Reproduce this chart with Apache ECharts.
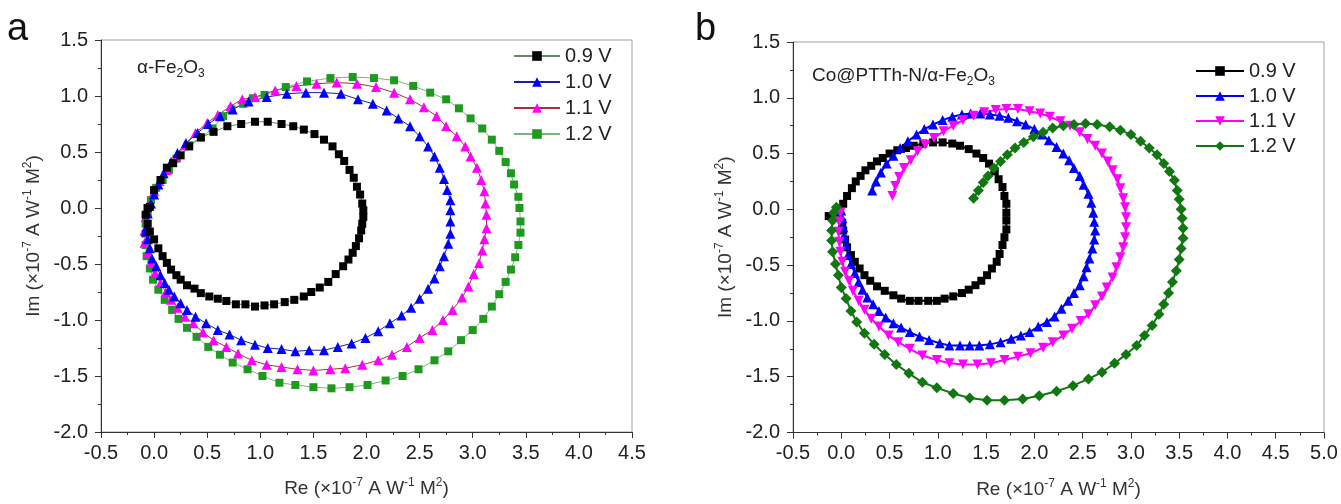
<!DOCTYPE html>
<html>
<head>
<meta charset="utf-8">
<script src="https://cdn.jsdelivr.net/npm/echarts@6/dist/echarts.min.js"></script>
<style>html,body{margin:0;padding:0;background:#fff}#c{width:1341px;height:504px}</style>
</head>
<body>
<div id="c"></div>
<script>
// ---------- Data (Re, Im) in units of 1e-7 A W^-1 M^2 ----------
var seriesNames = ['0.9 V', '1.0 V', '1.1 V', '1.2 V'];
var xTicksA = [-0.5, 0.0, 0.5, 1.0, 1.5, 2.0, 2.5, 3.0, 3.5, 4.0, 4.5];
var xTicksB = [-0.5, 0.0, 0.5, 1.0, 1.5, 2.0, 2.5, 3.0, 3.5, 4.0, 4.5, 5.0];
var yTicks = [-2.0, -1.5, -1.0, -0.5, 0.0, 0.5, 1.0, 1.5];

// Panel a: alpha-Fe2O3
var a09 = [[-0.06,0.0],[-0.04,0.01],[0.0,0.16],[0.06,0.25],[0.12,0.36],[0.18,0.40],[0.25,0.47],[0.33,0.55],[0.44,0.63],[0.56,0.68],[0.69,0.73],[0.82,0.75],[0.95,0.77],[1.07,0.77],[1.20,0.75],[1.31,0.73],[1.41,0.70],[1.51,0.66],[1.60,0.61],[1.68,0.55],[1.74,0.48],[1.79,0.42],[1.84,0.34],[1.88,0.27],[1.91,0.19],[1.94,0.12],[1.96,0.04],[1.97,-0.02],[1.97,-0.08],[1.96,-0.14],[1.95,-0.20],[1.93,-0.27],[1.90,-0.34],[1.87,-0.40],[1.83,-0.46],[1.78,-0.52],[1.71,-0.59],[1.64,-0.66],[1.56,-0.71],[1.48,-0.75],[1.41,-0.79],[1.32,-0.82],[1.23,-0.84],[1.13,-0.86],[1.04,-0.87],[0.95,-0.88],[0.86,-0.86],[0.77,-0.86],[0.68,-0.83],[0.60,-0.81],[0.52,-0.79],[0.44,-0.76],[0.38,-0.72],[0.31,-0.69],[0.25,-0.64],[0.21,-0.60],[0.16,-0.55],[0.12,-0.49],[0.08,-0.43],[0.04,-0.36],[0.0,-0.28],[-0.04,-0.21],[-0.06,-0.14],[-0.08,-0.06],[-0.06,0.0]];
var a10 = [[-0.07,-0.17],[-0.06,-0.05],[-0.03,0.04],[0.0,0.12],[0.04,0.21],[0.09,0.31],[0.16,0.41],[0.22,0.49],[0.30,0.58],[0.41,0.67],[0.51,0.75],[0.62,0.82],[0.74,0.88],[0.89,0.95],[1.06,0.99],[1.25,1.02],[1.43,1.03],[1.60,1.03],[1.76,1.02],[1.92,0.97],[2.06,0.93],[2.19,0.87],[2.30,0.80],[2.41,0.73],[2.50,0.64],[2.58,0.55],[2.64,0.46],[2.69,0.36],[2.73,0.26],[2.76,0.16],[2.79,0.07],[2.79,-0.02],[2.79,-0.12],[2.79,-0.23],[2.77,-0.32],[2.73,-0.43],[2.69,-0.52],[2.64,-0.63],[2.58,-0.72],[2.50,-0.81],[2.42,-0.89],[2.33,-0.96],[2.22,-1.03],[2.11,-1.10],[1.99,-1.16],[1.86,-1.21],[1.73,-1.24],[1.60,-1.27],[1.46,-1.27],[1.33,-1.28],[1.20,-1.26],[1.07,-1.25],[0.95,-1.22],[0.82,-1.18],[0.71,-1.13],[0.60,-1.09],[0.49,-1.03],[0.39,-0.97],[0.31,-0.91],[0.25,-0.85],[0.19,-0.79],[0.14,-0.73],[0.10,-0.67],[0.06,-0.60],[0.02,-0.52],[-0.02,-0.45],[-0.04,-0.36],[-0.06,-0.28],[-0.08,-0.21]];
var a11 = [[-0.09,-0.20],[-0.08,-0.08],[-0.04,0.04],[0.0,0.15],[0.05,0.24],[0.12,0.34],[0.21,0.46],[0.29,0.56],[0.39,0.67],[0.50,0.76],[0.60,0.83],[0.72,0.91],[0.83,0.97],[0.95,0.99],[1.14,1.05],[1.34,1.09],[1.53,1.11],[1.72,1.12],[1.91,1.11],[2.09,1.08],[2.26,1.03],[2.41,0.97],[2.54,0.90],[2.66,0.82],[2.75,0.73],[2.85,0.64],[2.93,0.55],[2.98,0.46],[3.04,0.36],[3.08,0.25],[3.11,0.15],[3.12,0.04],[3.13,-0.06],[3.13,-0.18],[3.11,-0.28],[3.09,-0.38],[3.06,-0.49],[3.01,-0.59],[2.96,-0.70],[2.90,-0.80],[2.81,-0.91],[2.72,-1.00],[2.62,-1.09],[2.50,-1.16],[2.38,-1.24],[2.24,-1.31],[2.11,-1.36],[1.96,-1.40],[1.80,-1.43],[1.66,-1.44],[1.50,-1.45],[1.35,-1.44],[1.20,-1.42],[1.06,-1.40],[0.92,-1.36],[0.79,-1.30],[0.68,-1.24],[0.56,-1.18],[0.46,-1.11],[0.37,-1.03],[0.29,-0.97],[0.22,-0.89],[0.16,-0.82],[0.11,-0.75],[0.06,-0.67],[0.01,-0.58],[-0.03,-0.49],[-0.06,-0.40],[-0.09,-0.31]];
var a12 = [[-0.06,-0.05],[-0.03,0.07],[0.02,0.18],[0.08,0.25],[0.14,0.34],[0.21,0.44],[0.33,0.56],[0.44,0.63],[0.55,0.71],[0.65,0.82],[0.73,0.88],[0.84,0.93],[0.93,0.98],[1.04,1.01],[1.24,1.08],[1.44,1.13],[1.66,1.16],[1.87,1.17],[2.07,1.16],[2.26,1.14],[2.44,1.09],[2.60,1.03],[2.75,0.97],[2.87,0.89],[2.98,0.80],[3.09,0.71],[3.18,0.61],[3.25,0.51],[3.31,0.41],[3.36,0.31],[3.39,0.21],[3.43,0.10],[3.44,0.0],[3.45,-0.12],[3.45,-0.22],[3.43,-0.33],[3.40,-0.44],[3.36,-0.55],[3.31,-0.66],[3.25,-0.77],[3.18,-0.88],[3.10,-0.99],[3.00,-1.09],[2.89,-1.18],[2.77,-1.28],[2.64,-1.36],[2.49,-1.44],[2.34,-1.50],[2.18,-1.54],[2.01,-1.58],[1.84,-1.60],[1.67,-1.61],[1.50,-1.60],[1.33,-1.58],[1.18,-1.56],[1.02,-1.50],[0.88,-1.44],[0.74,-1.38],[0.62,-1.31],[0.51,-1.24],[0.40,-1.15],[0.31,-1.07],[0.23,-0.99],[0.17,-0.91],[0.10,-0.82],[0.04,-0.73],[-0.01,-0.64],[-0.04,-0.54],[-0.07,-0.43],[-0.08,-0.33],[-0.08,-0.23],[-0.08,-0.14]];

// Panel b: Co@PTTh-N/alpha-Fe2O3
var b09 = [[-0.13,-0.06],[-0.05,-0.03],[0.02,0.05],[0.06,0.12],[0.11,0.19],[0.15,0.25],[0.20,0.30],[0.25,0.35],[0.31,0.39],[0.37,0.43],[0.43,0.46],[0.50,0.50],[0.58,0.53],[0.67,0.55],[0.75,0.57],[0.85,0.59],[0.95,0.60],[1.05,0.60],[1.15,0.59],[1.23,0.57],[1.32,0.54],[1.40,0.50],[1.47,0.46],[1.53,0.41],[1.59,0.34],[1.63,0.27],[1.67,0.20],[1.69,0.12],[1.71,0.05],[1.71,-0.03],[1.71,-0.10],[1.71,-0.18],[1.69,-0.25],[1.67,-0.32],[1.64,-0.40],[1.61,-0.47],[1.56,-0.53],[1.51,-0.59],[1.45,-0.64],[1.39,-0.68],[1.32,-0.72],[1.25,-0.75],[1.16,-0.78],[1.07,-0.80],[0.99,-0.82],[0.90,-0.82],[0.80,-0.82],[0.71,-0.82],[0.62,-0.80],[0.54,-0.77],[0.45,-0.73],[0.37,-0.69],[0.30,-0.64],[0.24,-0.59],[0.19,-0.53],[0.14,-0.47],[0.10,-0.41],[0.06,-0.34],[0.04,-0.27],[0.02,-0.19],[0.01,-0.12]];
var b10 = [[0.32,0.17],[0.36,0.25],[0.41,0.33],[0.47,0.41],[0.54,0.48],[0.61,0.55],[0.69,0.61],[0.78,0.67],[0.86,0.72],[0.95,0.76],[1.05,0.80],[1.15,0.83],[1.25,0.85],[1.34,0.86],[1.44,0.86],[1.54,0.85],[1.64,0.84],[1.73,0.82],[1.82,0.79],[1.91,0.76],[2.00,0.72],[2.08,0.67],[2.15,0.62],[2.23,0.56],[2.30,0.50],[2.36,0.44],[2.41,0.37],[2.47,0.30],[2.51,0.22],[2.56,0.14],[2.59,0.06],[2.61,-0.03],[2.62,-0.11],[2.63,-0.19],[2.62,-0.27],[2.60,-0.35],[2.57,-0.44],[2.54,-0.52],[2.51,-0.60],[2.47,-0.68],[2.41,-0.75],[2.35,-0.82],[2.28,-0.89],[2.21,-0.96],[2.13,-1.01],[2.04,-1.05],[1.95,-1.10],[1.86,-1.13],[1.76,-1.16],[1.65,-1.19],[1.54,-1.21],[1.43,-1.22],[1.33,-1.22],[1.23,-1.22],[1.12,-1.22],[1.02,-1.20],[0.91,-1.17],[0.81,-1.14],[0.71,-1.10],[0.62,-1.06],[0.54,-1.02],[0.46,-0.97],[0.39,-0.91],[0.33,-0.85],[0.27,-0.79],[0.22,-0.72],[0.18,-0.65],[0.14,-0.57],[0.10,-0.49],[0.07,-0.41],[0.05,-0.32],[0.03,-0.24],[0.02,-0.16],[0.01,-0.08],[0.0,-0.01]];
var b11 = [[0.53,0.12],[0.56,0.21],[0.60,0.29],[0.65,0.37],[0.72,0.44],[0.79,0.52],[0.87,0.58],[0.96,0.64],[1.06,0.70],[1.16,0.75],[1.26,0.80],[1.37,0.84],[1.48,0.87],[1.60,0.89],[1.71,0.90],[1.83,0.90],[1.95,0.88],[2.06,0.86],[2.16,0.83],[2.27,0.79],[2.37,0.75],[2.47,0.69],[2.55,0.63],[2.63,0.57],[2.70,0.50],[2.76,0.43],[2.81,0.35],[2.86,0.27],[2.89,0.19],[2.92,0.10],[2.94,0.02],[2.95,-0.07],[2.95,-0.16],[2.94,-0.25],[2.92,-0.34],[2.89,-0.43],[2.85,-0.52],[2.81,-0.61],[2.75,-0.70],[2.70,-0.78],[2.63,-0.86],[2.56,-0.94],[2.48,-1.00],[2.39,-1.07],[2.30,-1.13],[2.19,-1.19],[2.09,-1.24],[1.96,-1.29],[1.83,-1.32],[1.69,-1.35],[1.55,-1.38],[1.41,-1.39],[1.26,-1.39],[1.12,-1.38],[0.99,-1.35],[0.84,-1.31],[0.71,-1.25],[0.59,-1.19],[0.49,-1.13],[0.39,-1.05],[0.31,-0.98],[0.24,-0.90],[0.18,-0.82],[0.12,-0.73],[0.08,-0.64],[0.04,-0.56],[0.01,-0.47],[-0.01,-0.38],[-0.02,-0.29],[-0.03,-0.20],[-0.02,-0.11],[-0.01,-0.03]];
var b12 = [[1.37,0.10],[1.42,0.17],[1.47,0.24],[1.52,0.30],[1.58,0.37],[1.65,0.43],[1.72,0.49],[1.80,0.55],[1.89,0.60],[1.99,0.65],[2.09,0.69],[2.19,0.73],[2.30,0.75],[2.41,0.76],[2.53,0.77],[2.65,0.76],[2.78,0.74],[2.89,0.71],[3.00,0.67],[3.10,0.61],[3.19,0.55],[3.27,0.49],[3.34,0.41],[3.40,0.34],[3.45,0.26],[3.48,0.17],[3.50,0.09],[3.52,0.0],[3.53,-0.08],[3.54,-0.17],[3.54,-0.26],[3.52,-0.35],[3.50,-0.45],[3.47,-0.55],[3.43,-0.65],[3.39,-0.75],[3.34,-0.85],[3.29,-0.94],[3.22,-1.04],[3.14,-1.13],[3.06,-1.22],[2.95,-1.30],[2.83,-1.38],[2.70,-1.46],[2.56,-1.52],[2.40,-1.58],[2.23,-1.63],[2.05,-1.67],[1.88,-1.70],[1.69,-1.71],[1.51,-1.71],[1.33,-1.69],[1.16,-1.65],[0.99,-1.60],[0.84,-1.55],[0.70,-1.47],[0.57,-1.39],[0.45,-1.30],[0.34,-1.21],[0.24,-1.11],[0.16,-1.01],[0.10,-0.91],[0.05,-0.80],[0.0,-0.70],[-0.03,-0.59],[-0.06,-0.49],[-0.09,-0.38],[-0.10,-0.28],[-0.10,-0.19],[-0.09,-0.10],[-0.08,-0.03],[-0.05,0.02]];

// ---------- Chart ----------
var FONT = 'Liberation Sans, Arial, sans-serif';
var chart = echarts.init(document.getElementById('c'), null, {renderer: 'canvas'});

function axisName(kind) {
  return '{n|' + kind + ' (×10}{s|-7}{n| A W}{s|-1}{n| M}{s|2}{n|)}';
}
var nameRich = {
  n: {fontSize: 19, fontFamily: FONT, color: '#333', lineHeight: 24},
  s: {fontSize: 12, fontFamily: FONT, color: '#333', verticalAlign: 'top'}
};
function fmt(v) { return v.toFixed(1); }

function xAx(idx, ticks) {
  return {
    type: 'value', gridIndex: idx,
    min: ticks[0], max: ticks[ticks.length - 1], interval: 0.5,
    axisLine: {show: true, onZero: false, lineStyle: {color: '#333', width: 1}},
    axisTick: {show: true, inside: false, length: 6, lineStyle: {color: '#333'}},
    minorTick: {show: true, splitNumber: 2, length: 3, lineStyle: {color: '#333'}},
    splitLine: {show: false},
    axisLabel: {formatter: fmt, fontSize: 20, fontFamily: FONT, color: '#222', margin: 11},
    name: axisName('Re'), nameLocation: 'middle', nameGap: 45,
    nameTextStyle: {rich: nameRich}
  };
}
function yAx(idx) {
  return {
    type: 'value', gridIndex: idx,
    min: yTicks[0], max: yTicks[yTicks.length - 1], interval: 0.5,
    axisLine: {show: true, onZero: false, lineStyle: {color: '#333', width: 1}},
    axisTick: {show: true, inside: false, length: 6, lineStyle: {color: '#333'}},
    minorTick: {show: true, splitNumber: 2, length: 3, lineStyle: {color: '#333'}},
    splitLine: {show: false},
    axisLabel: {formatter: fmt, fontSize: 20, fontFamily: FONT, color: '#222', margin: 13},
    name: axisName('Im'), nameLocation: 'middle', nameGap: 55, nameRotate: 90,
    nameTextStyle: {rich: nameRich}
  };
}

function mk(id, data, g, symbol, size, mColor, lColor, lw) {
  return {
    type: 'line', id: id, name: id, data: data,
    xAxisIndex: g, yAxisIndex: g,
    symbol: symbol, symbolSize: size, showSymbol: true, showAllSymbol: true,
    itemStyle: {color: mColor},
    lineStyle: {color: lColor, width: lw},
    emphasis: {disabled: true}, animation: false, silent: true
  };
}
var inv = 'path://M0,0L2,0L1,1.73Z';

var seriesA = [
  mk('a|' + seriesNames[3], a12, 0, 'rect', 8, '#1e9a1e', '#78b878', 1),
  mk('a|' + seriesNames[2], a11, 0, 'triangle', 10, '#ff00ff', '#a83232', 1),
  mk('a|' + seriesNames[1], a10, 0, 'triangle', 10, '#0000ff', '#1e1ea8', 1),
  mk('a|' + seriesNames[0], a09, 0, 'rect', 8, '#000000', '#5e8f5e', 1)
];
var seriesB = [
  mk('b|' + seriesNames[0], b09, 1, 'rect', 8, '#000000', '#000000', 2),
  mk('b|' + seriesNames[1], b10, 1, 'triangle', 10, '#0000ff', '#0000ff', 2),
  mk('b|' + seriesNames[2], b11, 1, inv, 10, '#ff00ff', '#ff00ff', 2),
  mk('b|' + seriesNames[3], b12, 1, 'diamond', 11, '#117711', '#117711', 2)
];

function legendFor(prefix, left, top, itemW, gap) {
  return {
    orient: 'vertical', left: left, top: top,
    data: seriesNames.map(function (n) { return prefix + '|' + n; }),
    formatter: function (n) { return n.split('|')[1]; },
    itemWidth: itemW, itemHeight: 12, itemGap: gap,
    textStyle: {fontSize: 20, fontFamily: FONT, color: '#222', lineHeight: 20},
    selectedMode: false, padding: 0
  };
}

var subRich = {
  n: {fontSize: 19, fontFamily: FONT, fill: '#222', lineHeight: 24},
  d: {fontSize: 12, fontFamily: FONT, fill: '#222', verticalAlign: 'bottom'}
};

chart.setOption({
  backgroundColor: '#ffffff',
  animation: false,
  grid: [
    {left: 101, top: 40, width: 531, height: 392, show: true, borderColor: '#a0a0a0', borderWidth: 1},
    {left: 793, top: 42, width: 531, height: 391, show: true, borderColor: '#a0a0a0', borderWidth: 1}
  ],
  xAxis: [xAx(0, xTicksA), xAx(1, xTicksB)],
  yAxis: [yAx(0), yAx(1)],
  legend: [legendFor('a', 513, 46, 46, 6), legendFor('b', 1195, 61, 48, 5)],
  series: seriesA.concat(seriesB),
  graphic: [
    {type: 'text', x: 7, y: 30, style: {text: 'a', fontSize: 38, fontFamily: FONT, fill: '#111', verticalAlign: 'middle'}},
    {type: 'text', x: 695, y: 30, style: {text: 'b', fontSize: 38, fontFamily: FONT, fill: '#111', verticalAlign: 'middle'}},
    {type: 'text', x: 137, y: 68, style: {text: '{n|α-Fe}{d|2}{n|O}{d|3}', rich: subRich, verticalAlign: 'middle'}},
    {type: 'text', x: 812, y: 76, style: {text: '{n|Co@PTTh-N/α-Fe}{d|2}{n|O}{d|3}', rich: subRich, verticalAlign: 'middle'}}
  ]
});
</script>
</body>
</html>
